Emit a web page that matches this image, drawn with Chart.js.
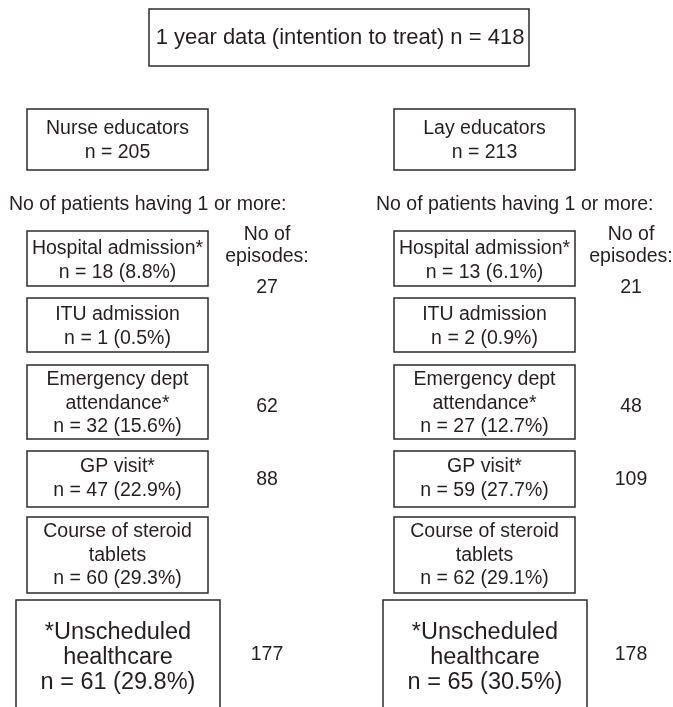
<!DOCTYPE html>
<html>
<head>
<meta charset="utf-8">
<script src="https://cdn.jsdelivr.net/npm/chart.js@4.4.0/dist/chart.umd.min.js"></script>
<style>
  html, body { margin: 0; padding: 0; background: #fff; }
  #wrap { width: 673px; height: 707px; }
</style>
</head>
<body>
<div id="wrap"><canvas id="flow" width="673" height="707"></canvas></div>
<script>
// ---------------- DATA ----------------
const totalN = 418;
const groupNames = ["Nurse educators", "Lay educators"];
const groupN = [205, 213];
const outcomeLines = [
    ["Hospital admission*"],
    ["ITU admission"],
    ["Emergency dept", "attendance*"],
    ["GP visit*"],
    ["Course of steroid", "tablets"],
    ["*Unscheduled", "healthcare"]
];
const nursePatients = [18, 1, 32, 47, 60, 61];
const nursePct = [8.8, 0.5, 15.6, 22.9, 29.3, 29.8];
const nurseEpisodes = [27, null, 62, 88, null, 177];
const layPatients = [13, 2, 27, 59, 62, 65];
const layPct = [6.1, 0.9, 12.7, 27.7, 29.1, 30.5];
const layEpisodes = [21, null, 48, 109, null, 178];

// ---------------- LAYOUT (chart units = px of the figure) ----------------
const colOffset = [0, 367];
const episodeX = [267, 631];
const rowBox = [[231, 286], [298, 352], [365, 439], [451, 507], [517, 593], [600, 730]];
const rowFirstLine = [249, 315, 380, 467, 532, 633];
const rowEpisodeY = [288, null, 407, 480, null, 655];
const FONT = "'Liberation Sans', Arial, Helvetica, sans-serif";
const INK = "#231f20";

const flowPlugin = {
    id: "flow",
    afterDraw(chart) {
        const ctx = chart.ctx;
        const sx = chart.scales.x, sy = chart.scales.y;
        const px = v => sx.getPixelForValue(v);
        const py = v => sy.getPixelForValue(v);

        function box(x0, y0, x1, y1) {
            ctx.save();
            ctx.strokeStyle = "#2b2b2b";
            ctx.lineWidth = 1.5;
            ctx.strokeRect(px(x0), py(y0), px(x1) - px(x0), py(y1) - py(y0));
            ctx.restore();
        }
        function text(str, x, y, size, align) {
            ctx.save();
            ctx.fillStyle = INK;
            ctx.font = size + "px " + FONT;
            ctx.textAlign = align || "center";
            ctx.textBaseline = "middle";
            ctx.fillText(str, px(x), py(y));
            ctx.restore();
        }

        // title
        box(149, 9, 529, 66);
        text("1 year data (intention to treat) n = " + totalN, 340, 38, 22);

        const patients = [nursePatients, layPatients];
        const pct = [nursePct, layPct];
        const episodes = [nurseEpisodes, layEpisodes];

        groupNames.forEach((name, g) => {
            const o = colOffset[g];
            const ex = episodeX[g];
            box(27 + o, 109, 208 + o, 170);
            text(name, 117.5 + o, 129, 19.5);
            text("n = " + groupN[g], 117.5 + o, 153, 19.5);
            text("No of patients having 1 or more:", 9 + o, 205, 19.5, "left");

            text("No of", ex, 235, 19.5);
            text("episodes:", ex, 257, 19.5);

            outcomeLines.forEach((lines, r) => {
                const big = r === outcomeLines.length - 1;
                const x0 = big ? 16 : 27, x1 = big ? 220 : 208;
                const size = big ? 23.5 : 19.5;
                const step = big ? 25 : 23.5;
                box(x0 + o, rowBox[r][0], x1 + o, rowBox[r][1]);
                const all = lines.concat(["n = " + patients[g][r] + " (" + pct[g][r].toFixed(1) + "%)"]);
                all.forEach((ln, i) => text(ln, (x0 + x1) / 2 + o, rowFirstLine[r] + i * step, size));
                if (episodes[g][r] !== null) {
                    text(String(episodes[g][r]), ex, rowEpisodeY[r], 19.5);
                }
            });
        });
    }
};

new Chart(document.getElementById("flow"), {
    type: "scatter",
    data: { datasets: [{ data: [], pointRadius: 0 }] },
    options: {
        responsive: false,
        animation: false,
        layout: { padding: 0 },
        plugins: { legend: { display: false }, tooltip: { enabled: false } },
        scales: {
            x: { display: false, min: 0, max: 673 },
            y: { display: false, min: 0, max: 707, reverse: true }
        }
    },
    plugins: [flowPlugin]
});
</script>
</body>
</html>
